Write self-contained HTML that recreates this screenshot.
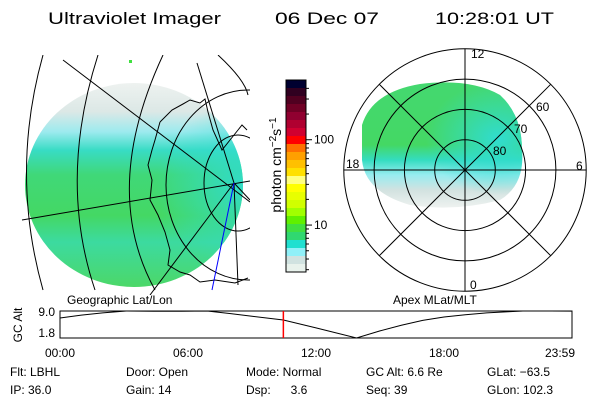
<!DOCTYPE html>
<html><head><meta charset="utf-8"><style>
html,body{margin:0;padding:0;background:#fff}
svg{display:block;font-family:"Liberation Sans",sans-serif}
</style></head><body>
<svg id="s" width="600" height="400" viewBox="0 0 600 400">
<defs>
<linearGradient id="lg" x1="0" y1="0" x2="0" y2="1">
<stop offset="0" stop-color="#eef2f0"/><stop offset="0.14" stop-color="#dce8e6"/>
<stop offset="0.24" stop-color="#9ceaee"/><stop offset="0.33" stop-color="#38dcc4"/>
<stop offset="0.45" stop-color="#40d878"/><stop offset="0.65" stop-color="#44d864"/>
<stop offset="0.78" stop-color="#3cdaa0"/><stop offset="1" stop-color="#4cd868"/>
</linearGradient>
<radialGradient id="lgr" cx="1" cy="0.5" r="0.4"><stop offset="0" stop-color="#30dcd0" stop-opacity="0.9"/><stop offset="1" stop-color="#30dcd0" stop-opacity="0"/></radialGradient>
<linearGradient id="pg" x1="0" y1="0" x2="0" y2="1">
<stop offset="0" stop-color="#44d870"/><stop offset="0.5" stop-color="#44d864"/>
<stop offset="0.62" stop-color="#34dcc0"/><stop offset="0.74" stop-color="#98ecf0"/>
<stop offset="0.86" stop-color="#d2e2e0"/><stop offset="1" stop-color="#eef2f0"/>
</linearGradient>
<radialGradient id="pgr" cx="0.85" cy="0.45" r="0.45"><stop offset="0" stop-color="#30dcd0"/><stop offset="1" stop-color="#30dcd0" stop-opacity="0"/></radialGradient>
<clipPath id="mapclip"><rect x="18" y="55" width="232" height="240"/></clipPath>
<clipPath id="pclip"><circle cx="465" cy="170" r="121"/></clipPath>
</defs>

<g font-size="17">
<text x="48" y="24" textLength="173" lengthAdjust="spacingAndGlyphs">Ultraviolet Imager</text>
<text x="275" y="24" textLength="104" lengthAdjust="spacingAndGlyphs">06 Dec 07</text>
<text x="435" y="24" textLength="119" lengthAdjust="spacingAndGlyphs">10:28:01 UT</text>
</g>

<g clip-path="url(#mapclip)">
<ellipse cx="134" cy="185" rx="109" ry="102" fill="url(#lg)"/>
<ellipse cx="134" cy="185" rx="109" ry="102" fill="url(#lgr)"/>
<rect x="129" y="60" width="3" height="3" fill="#40e040"/>
<g fill="none" stroke="#000" stroke-width="1">
<path d="M63,60 L250,202"/>
<path d="M22,220 L250,181"/>
<path d="M43,55 Q10,173 43,290"/>
<path d="M98,55 Q58,180 95,290"/>
<path d="M163,55 Q100,190 155,290"/>
<path d="M197,63 L234,183"/>
<path d="M218,55 Q245,80 248,95"/>
<ellipse cx="238" cy="183" rx="34" ry="48"/>
<ellipse cx="248" cy="185" rx="82" ry="95"/>
<path d="M234,183 L150,295"/>
<path d="M234,183 L238,285"/>
<path d="M234,183 L250,200"/>
<path d="M160,122 L172,110 L183,104 L190,100 L200,103 L205,99 L208,112 L213,130 L222,150 L230,140 L238,130 L242,125 L247,130 M160,122 L155,140 L152,150 L148,165 L152,180 L150,200 L158,215 L165,232 L170,250 L168,265 L180,272 L190,275 L200,282 L215,280 L235,283 L248,278"/>
</g>
<path d="M234,183 L212,290" stroke="#0000ff" fill="none"/>
</g>
<text x="67" y="304" font-size="12">Geographic Lat/Lon</text>

<g id="cbar"></g>
<text transform="translate(281,165) rotate(-90)" font-size="14" text-anchor="middle">photon cm<tspan dy="-5" font-size="10">−2</tspan><tspan dy="5">s</tspan><tspan dy="-5" font-size="10">−1</tspan></text>

<g>
<g clip-path="url(#pclip)">
<path d="M362,125 Q372,92 420,84 Q470,78 500,95 Q522,115 522,150 Q525,185 500,200 Q455,212 410,205 Q365,192 362,160 Z" fill="url(#pg)"/>
<path d="M362,125 Q372,92 420,84 Q470,78 500,95 Q522,115 522,150 Q525,185 500,200 Q455,212 410,205 Q365,192 362,160 Z" fill="url(#pgr)"/>
</g>
<g id="polgrid" fill="none" stroke="#000"></g>
<g font-size="12">
<text x="471" y="58">12</text>
<text x="576" y="170">6</text>
<text x="346" y="168">18</text>
<text x="470" y="289">0</text>
<text x="493" y="155">80</text>
<text x="514" y="133">70</text>
<text x="536" y="111">60</text>
</g>
</g>
<text x="393" y="304" font-size="12">Apex MLat/MLT</text>

<g id="alt"></g>

<g font-size="12">
<text x="10" y="376">Flt: LBHL</text><text x="10" y="394">IP: 36.0</text>
<text x="126" y="376">Door: Open</text><text x="126" y="394">Gain: 14</text>
<text x="246" y="376">Mode: Normal</text><text x="246" y="394">Dsp:&#160;&#160;&#160;&#160;&#160;&#160;3.6</text>
<text x="366" y="376">GC Alt: 6.6 Re</text><text x="366" y="394">Seq: 39</text>
<text x="487" y="376">GLat: −63.5</text><text x="487" y="394">GLon: 102.3</text>
</g>
</svg>
<script>
var NS="http://www.w3.org/2000/svg";
function mk(t,a,p){var e=document.createElementNS(NS,t);for(var k in a)e.setAttribute(k,a[k]);p.appendChild(e);return e;}
// colorbar data
var cbColors=["#000030","#300020","#500020","#700025","#900030","#b00030","#d00030","#ff0000","#ff7000","#ffa000","#ffc000","#ffe000","#ffff80","#ffff00","#e8ff00","#d0ff00","#a0ff00","#60f000","#40e040","#30d870","#20e0d0","#90f0f8","#d0e2e0","#e8f2ec"];
var cbTicks=["100","10"];
var cbTickVals=[100,10];
var cbLogMin=0.45, cbLogMax=2.7;
var cb=document.getElementById('cbar');
var cbTop=80,cbBot=272,cbH=(cbBot-cbTop)/cbColors.length;
function cbY(v){return cbBot-(Math.log10(v)-cbLogMin)/(cbLogMax-cbLogMin)*(cbBot-cbTop);}
cbColors.forEach(function(c,i){var r=mk('rect',{x:286,y:cbTop+i*cbH,width:20,height:cbH+0.3,fill:c},cb);

});
mk('rect',{x:286,y:cbTop,width:20,height:cbBot-cbTop,fill:'none',stroke:'#000'},cb);
[3,4,5,6,7,8,9,20,30,40,50,60,70,80,90,200,300,400].forEach(function(v){var y=cbY(v);if(y>cbTop&&y<cbBot)mk('line',{x1:306,x2:309,y1:y,y2:y,stroke:'#000'},cb);});
cbTickVals.forEach(function(v,i){var y=cbY(v);mk('line',{x1:306,x2:312,y1:y,y2:y,stroke:'#000'},cb);
var t=mk('text',{x:314,y:y+4,'font-size':12},cb);t.textContent=cbTicks[i];

});
// polar grid
var pg=document.getElementById('polgrid');
var rings=[80,70,60,50];
var cx=465,cy=170;
function rOf(lat){return (90-lat)*3.03;}
rings.forEach(function(l){var c=mk('circle',{cx:cx,cy:cy,r:rOf(l)},pg);

});
var R=rOf(50);
for(var a=0;a<360;a+=45){var rad=a*Math.PI/180;mk('line',{x1:cx,y1:cy,x2:cx+R*Math.cos(rad),y2:cy+R*Math.sin(rad)},pg);}
// altitude timeline
var hours=[0,1,2,3.1,4.4,5.7,6.9,8,9,10.47,12,13.9,15,16,17,18,19,20,21,21.7,23,23.98];
var altVals=[7.13,7.9,8.5,9.0,8.95,8.95,9.0,8.3,7.6,6.6,4.5,1.8,3.7,5.2,6.5,7.4,8.0,8.5,8.8,9.0,9.0,8.95];
var yTicks=[9.0,1.8];
var xTickLabels=["00:00","06:00","12:00","18:00","23:59"];
var xTickHours=[0,6,12,18,24];
var currentHour=10.47;
var g=document.getElementById('alt');
var x0=60,x1=572,yT=311,yB=338;
function X(h){return x0+h/24*(x1-x0);}
function Y(v){return yB-(v-1.8)/(9.0-1.8)*(yB-yT);}
mk('rect',{x:x0,y:yT,width:x1-x0,height:yB-yT,fill:'none',stroke:'#000'},g);
var pl=mk('polyline',{points:hours.map(function(h,i){return X(h)+','+Y(altVals[i]);}).join(' '),fill:'none',stroke:'#000'},g);


var cl=mk('line',{x1:X(currentHour),x2:X(currentHour),y1:yT,y2:yB,stroke:'#ff0000','stroke-width':1.5},g);


yTicks.forEach(function(v,i){var t=mk('text',{x:55,y:(i==0?yT+5:yB-1),'font-size':12,'text-anchor':'end'},g);t.textContent=v.toFixed(1);

});
xTickHours.forEach(function(h,i){var t=mk('text',{x:X(h)+(i==4?-12:0),y:357,'font-size':12,'text-anchor':'middle'},g);t.textContent=xTickLabels[i];

});
var yt=mk('text',{transform:'translate(22,325) rotate(-90)','font-size':12,'text-anchor':'middle'},g);yt.textContent='GC Alt';


</script>
</body></html>
